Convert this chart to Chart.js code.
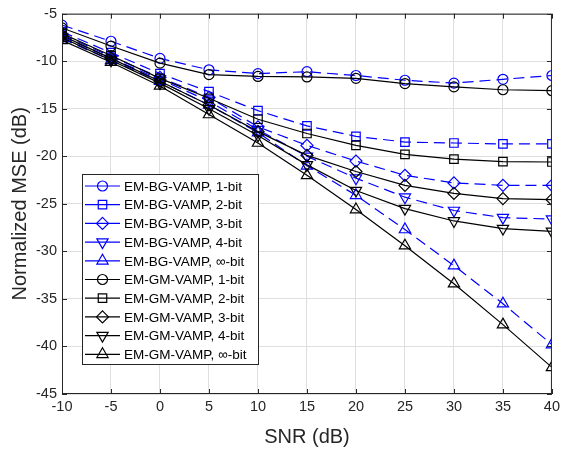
<!DOCTYPE html>
<html>
<head>
<meta charset="utf-8">
<script src="https://cdn.jsdelivr.net/npm/chart.js@4/dist/chart.umd.min.js"></script>
<style>
  html, body { margin: 0; padding: 0; background: #fff; }
  #wrap { width: 564px; height: 453px; }
</style>
</head>
<body>
<div id="wrap"><canvas id="mse"></canvas></div>
<script>
// SNR grid (dB)
const snr = [-10, -5, 0, 5, 10, 15, 20, 25, 30, 35, 40];

// EM-BG-VAMP, normalized MSE (dB)
const bg1 = [-6.2, -7.9, -9.7, -10.9, -11.3, -11.1, -11.5, -12.0, -12.3, -11.9, -11.5];
const bg2 = [-6.9, -9.1, -11.3, -13.2, -15.2, -16.8, -17.9, -18.5, -18.6, -18.7, -18.7];
const bg3 = [-7.2, -9.5, -11.7, -13.8, -16.9, -18.85, -20.5, -22.0, -22.8, -23.05, -23.05];
const bg4 = [-7.4, -9.7, -11.9, -14.2, -17.2, -20.0, -22.3, -24.3, -25.7, -26.45, -26.6];
const bgInf = [-7.6, -9.9, -12.1, -14.6, -17.5, -21.0, -24.1, -27.7, -31.5, -35.5, -39.8];

// EM-GM-VAMP
const gm1 = [-6.5, -8.4, -10.2, -11.4, -11.6, -11.65, -11.8, -12.35, -12.7, -13.0, -13.1];
const gm2 = [-7.1, -9.4, -11.8, -13.9, -16.1, -17.6, -18.85, -19.8, -20.3, -20.55, -20.6];
const gm3 = [-7.3, -9.7, -12.1, -14.6, -17.4, -19.9, -21.6, -23.05, -23.9, -24.45, -24.55];
const gm4 = [-7.5, -9.9, -12.3, -15.0, -17.8, -20.9, -23.6, -25.5, -26.8, -27.6, -27.9];
const gmInf = [-7.8, -10.1, -12.6, -15.6, -18.6, -22.0, -25.6, -29.4, -33.4, -37.7, -42.2];

const bitLabels = ['1-bit', '2-bit', '3-bit', '4-bit', '\u221e-bit'];
const xTicks = [-10, 40, 5];   // min, max, step
const yTicks = [-45, -5, 5];

const FONT = "'Liberation Sans', Arial, Helvetica, sans-serif";
const BLUE = '#0000ff';
const INK = '#262626';

// marker per bit-depth: [pointStyle, rotation, radius]
const markers = [
  ['circle', 0, 5],
  ['rect', 0, 6],
  ['rectRot', 0, 6],
  ['triangle', 180, 6.5],
  ['triangle', 0, 6.5]
];

function makeSet(label, values, i, blue) {
  const m = markers[i];
  return {
    label: label,
    data: snr.map((s, k) => ({ x: s, y: values[k] })),
    borderColor: blue ? BLUE : '#000',
    backgroundColor: 'rgba(0,0,0,0)',
    borderWidth: 1.2,
    borderDash: blue ? [11, 6] : [],
    pointStyle: m[0],
    pointRotation: m[1],
    pointRadius: m[2],
    pointBorderWidth: 1.2,
    pointBackgroundColor: 'rgba(0,0,0,0)',
    pointBorderColor: blue ? BLUE : '#000',
    tension: 0,
    order: blue ? 1 : 0
  };
}

const bgSeries = [bg1, bg2, bg3, bg4, bgInf];
const gmSeries = [gm1, gm2, gm3, gm4, gmInf];
const datasets = [];
bgSeries.forEach((v, i) => datasets.push(makeSet('EM-BG-VAMP, ' + bitLabels[i], v, i, true)));
gmSeries.forEach((v, i) => datasets.push(makeSet('EM-GM-VAMP, ' + bitLabels[i], v, i, false)));

function drawMarker(ctx, style, rot, r, x, y) {
  ctx.beginPath();
  if (style === 'circle') {
    ctx.arc(x, y, r, 0, Math.PI * 2);
  } else if (style === 'rect') {
    const s = Math.SQRT1_2 * r;
    ctx.rect(x - s, y - s, 2 * s, 2 * s);
  } else if (style === 'rectRot') {
    ctx.moveTo(x, y - r); ctx.lineTo(x + r, y); ctx.lineTo(x, y + r); ctx.lineTo(x - r, y); ctx.closePath();
  } else {
    let a = rot * Math.PI / 180;
    ctx.moveTo(x + Math.sin(a) * r, y - Math.cos(a) * r);
    for (let k = 0; k < 2; k++) {
      a += 2 * Math.PI / 3;
      ctx.lineTo(x + Math.sin(a) * r, y - Math.cos(a) * r);
    }
    ctx.closePath();
  }
  ctx.stroke();
}

// matlab-ish box, inward ticks and the legend inside the axes
const boxPlugin = {
  id: 'boxPlugin',
  afterDatasetsDraw(chart) {
    const { ctx, chartArea: a, scales } = chart;
    ctx.save();
    ctx.strokeStyle = INK;
    ctx.lineWidth = 1;
    ctx.setLineDash([]);
    ctx.strokeRect(a.left + 0.5, a.top + 0.5, a.right - a.left - 1, a.bottom - a.top - 1);
    const tl = 5;
    ctx.beginPath();
    scales.x.ticks.forEach(t => {
      const px = Math.round(scales.x.getPixelForValue(t.value)) + 0.5;
      ctx.moveTo(px, a.bottom); ctx.lineTo(px, a.bottom - tl);
      ctx.moveTo(px, a.top); ctx.lineTo(px, a.top + tl);
    });
    scales.y.ticks.forEach(t => {
      const py = Math.round(scales.y.getPixelForValue(t.value)) + 0.5;
      ctx.moveTo(a.left, py); ctx.lineTo(a.left + tl, py);
      ctx.moveTo(a.right, py); ctx.lineTo(a.right - tl, py);
    });
    ctx.stroke();

    // legend
    const lx = 82, ly = 174, lw = 176, lh = 190, row = 18.7;
    ctx.fillStyle = '#fff';
    ctx.fillRect(lx, ly, lw, lh);
    ctx.strokeStyle = INK;
    ctx.strokeRect(lx + 0.5, ly + 0.5, lw, lh);
    ctx.font = '13.5px ' + FONT;
    ctx.textBaseline = 'middle';
    chart.data.datasets.forEach((ds, i) => {
      const y = ly + 12 + i * row;
      ctx.strokeStyle = ds.borderColor;
      ctx.lineWidth = 1.2;
      ctx.beginPath();
      ctx.moveTo(85, y); ctx.lineTo(120, y);
      ctx.stroke();
      drawMarker(ctx, ds.pointStyle, ds.pointRotation, ds.pointRadius, 102.5, y);
      ctx.fillStyle = '#000';
      ctx.fillText(ds.label, 124, y + 1);
    });
    ctx.restore();
  }
};

new Chart(document.getElementById('mse'), {
  type: 'line',
  data: { datasets: datasets },
  options: {
    responsive: true,
    maintainAspectRatio: false,
    animation: false,
    layout: { padding: { top: 8, right: 8, left: 0, bottom: 0 } },
    plugins: { legend: { display: false }, tooltip: { enabled: false } },
    scales: {
      x: {
        type: 'linear',
        min: xTicks[0], max: xTicks[1],
        afterFit(s) { s.height = 59; },
        ticks: { stepSize: xTicks[2], color: INK, font: { family: FONT, size: 14.5 }, padding: 4, maxRotation: 0 },
        grid: { color: '#dfdfdf', drawTicks: false },
        border: { display: false },
        title: { display: true, text: 'SNR (dB)', color: INK, font: { family: FONT, size: 20 }, padding: { top: 0, bottom: 4 } }
      },
      y: {
        type: 'linear',
        min: yTicks[0], max: yTicks[1],
        afterFit(s) { s.width = 62; },
        ticks: { stepSize: yTicks[2], color: INK, font: { family: FONT, size: 14.5 }, padding: 5 },
        grid: { color: '#dfdfdf', drawTicks: false },
        border: { display: false },
        title: { display: true, text: 'Normalized MSE (dB)', color: INK, font: { family: FONT, size: 20 }, padding: { top: 8, bottom: 0 } }
      }
    }
  },
  plugins: [boxPlugin]
});
</script>
</body>
</html>
